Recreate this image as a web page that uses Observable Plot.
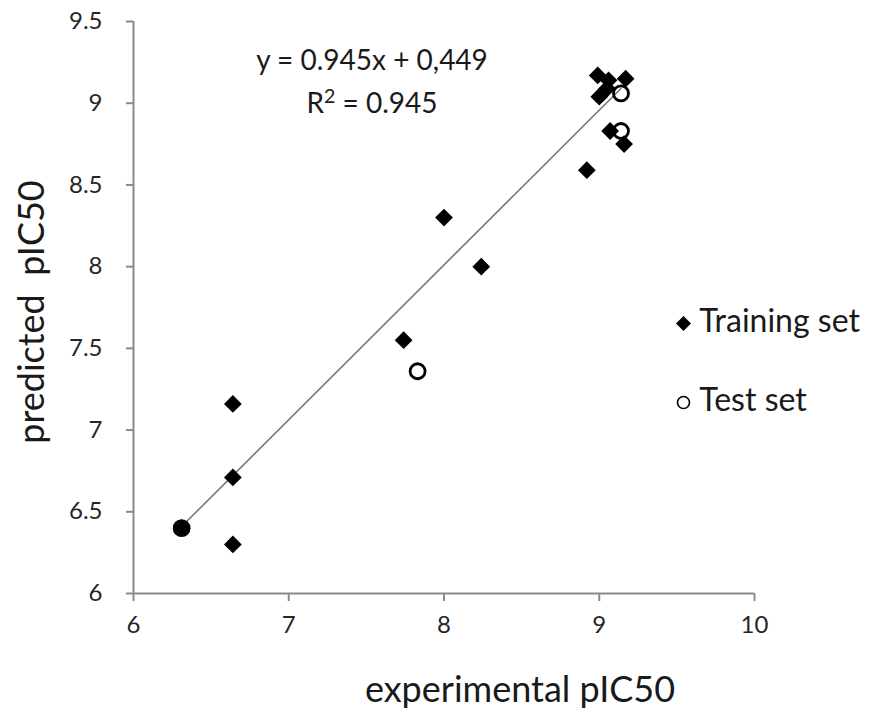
<!DOCTYPE html>
<html><head><meta charset="utf-8">
<script src="https://cdn.jsdelivr.net/npm/d3@7"></script>
<script src="https://cdn.jsdelivr.net/npm/@observablehq/plot@0.6"></script>
<style>
body{margin:0;background:#fff;}
#wrap{position:relative;width:874px;height:710px;font-family:Lato, "Open Sans", sans-serif;}
#wrap svg text{font-size:24px !important;}
.ann{position:absolute;color:#1a1a1a;white-space:nowrap;line-height:1;}
</style></head><body><div id="wrap"></div>
<script>
// Training set (filled diamonds)
const trainX = [8.99, 9.06, 9.17, 9.00, 9.05, 9.07, 9.16, 8.92, 8.00, 8.24, 7.74, 6.64, 6.64, 6.64, 6.31];
const trainY = [9.17, 9.14, 9.15, 9.04, 9.09, 8.83, 8.75, 8.59, 8.30, 8.00, 7.55, 7.16, 6.71, 6.30, 6.40];
// Test set (open circles)
const testX = [9.14, 9.14, 7.83, 6.31];
const testY = [9.06, 8.83, 7.36, 6.40];
// Trend line ends
const trendX = [6.31, 9.14];
const trendY = [6.41, 9.09];
const xTicks = [6, 7, 8, 9, 10];
const yTicks = [6, 6.5, 7, 7.5, 8, 8.5, 9, 9.5];
const seriesNames = ["Training set", "Test set"];
const equationText = "y = 0.945x + 0,449";
const r2Text = "R² = 0.945";
const xTitle = "experimental pIC50";
const yTitle = "predicted  pIC50";

const train = trainX.map((x, i) => ({x, y: trainY[i]}));
const test = testX.map((x, i) => ({x, y: testY[i]}));
const trend = trendX.map((x, i) => ({x, y: trendY[i]}));

const chart = Plot.plot({
  width: 874, height: 710,
  marginLeft: 133, marginRight: 120, marginTop: 21, marginBottom: 117,
  style: {fontFamily: "Lato, 'Open Sans', sans-serif", fontSize: "24px", background: "#fff"},
  x: {domain: [6, 10]},
  y: {domain: [6, 9.5]},
  marks: [
    Plot.axisX({ticks: xTicks, tickSize: 8, tickPadding: 14, fontSize: 24, label: null, stroke: "#8a8a8a", strokeWidth: 2, fill: "#262626", tickFormat: d => String(d)}),
    Plot.axisY({ticks: yTicks, tickSize: 7, tickPadding: 24, fontSize: 24, label: null, stroke: "#8a8a8a", strokeWidth: 2, fill: "#262626", tickFormat: d => String(d)}),
    Plot.ruleX([6], {stroke: "#8a8a8a", strokeWidth: 2}),
    Plot.ruleY([6], {stroke: "#8a8a8a", strokeWidth: 2}),
    Plot.line(trend, {x: "x", y: "y", stroke: "#777", strokeWidth: 1.6}),
    Plot.dot(train, {x: "x", y: "y", symbol: "diamond2", fill: "#000", r: 8}),
    Plot.dot(test, {x: "x", y: "y", symbol: "circle", fill: "none", stroke: "#000", strokeWidth: 2.8, r: 7.5})
  ]
});
const wrap = document.getElementById("wrap");
wrap.appendChild(chart);

function ann(html, css) {
  const d = document.createElement("div");
  d.className = "ann";
  d.innerHTML = html;
  Object.assign(d.style, css);
  wrap.appendChild(d);
  return d;
}
ann(equationText, {left: "232px", top: "45px", fontSize: "28px", width: "280px", textAlign: "center"});
ann(r2Text.replace("²", "<span style='font-size:0.7em;vertical-align:0.5em'>2</span>"), {left: "232px", top: "86px", fontSize: "28px", width: "280px", textAlign: "center"});
ann(xTitle, {left: "300px", top: "670px", fontSize: "36px", width: "440px", textAlign: "center"});
ann(yTitle.replace(/ /g, "&nbsp;"), {left: "-190px", top: "294px", fontSize: "36px", width: "440px", textAlign: "center", transform: "rotate(-90deg)"});
ann(`<svg width="17" height="17" style="vertical-align:middle"><path d="M8.5 1 L16 8.5 L8.5 16 L1 8.5 Z" fill="#000"/></svg>&nbsp;${seriesNames[0]}`, {left: "675px", top: "304px", fontSize: "32px"});
ann(`<svg width="17" height="17" style="vertical-align:middle"><circle cx="8.5" cy="8.5" r="6" fill="none" stroke="#000" stroke-width="1.6"/></svg>&nbsp;${seriesNames[1]}`, {left: "675px", top: "383px", fontSize: "32px"});
</script></body></html>
